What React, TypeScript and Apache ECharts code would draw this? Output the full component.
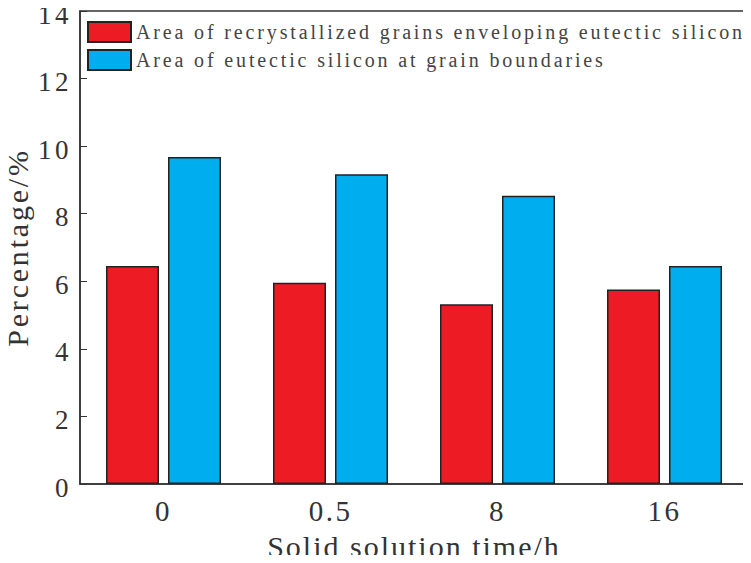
import React, { useEffect, useRef } from "react";
import * as echarts from "echarts";

const categories = ["0", "0.5", "8", "16"];
const recrystallized = [6.45, 5.96, 5.32, 5.76];
const eutecticBoundary = [9.68, 9.17, 8.53, 6.45];
const seriesNames = [
  "Area of recrystallized grains enveloping eutectic silicon",
  "Area of eutectic silicon at grain boundaries",
];
const yTickLabels = ["0", "2", "4", "6", "8", "10", "12", "14"];
const xName = "Solid solution time/h";
const yName = "Percentage/%";

const FONT = "Liberation Serif";
const TXT = "#333";

export default function App() {
  const ref = useRef<HTMLDivElement>(null);
  useEffect(() => {
    const el = ref.current!;
    const chart = echarts.init(el, null, { renderer: "svg" });
    chart.setOption({
      animation: false,
      backgroundColor: "#fff",
      grid: {
        left: 80,
        right: 3,
        top: 11,
        bottom: 79,
        outerBoundsMode: "none",
        containLabel: false,
        show: true,
        borderColor: "#333",
        borderWidth: 1.5,
        backgroundColor: "transparent",
      },
      legend: {
        orient: "vertical",
        left: 82,
        top: 16,
        icon: "rect",
        itemWidth: 43,
        itemHeight: 20,
        itemGap: 6,
        textStyle: { fontFamily: FONT, fontSize: 20, color: "#444" },
        data: seriesNames,
      },
      xAxis: {
        type: "category",
        data: categories,
        name: xName,
        nameLocation: "middle",
        nameGap: 47,
        nameTextStyle: { fontFamily: FONT, fontSize: 30, color: TXT },
        axisLine: { lineStyle: { color: "#333", width: 1.5 } },
        axisTick: { inside: true, alignWithLabel: true, length: 5, lineStyle: { color: "#555" } },
        axisLabel: { fontFamily: FONT, fontSize: 29, color: TXT, margin: 12 },
      },
      yAxis: {
        type: "value",
        min: 0,
        max: 14,
        interval: 2,
        name: yName,
        nameLocation: "middle",
        nameGap: 48,
        nameTextStyle: { fontFamily: FONT, fontSize: 30, color: TXT },
        axisLine: { show: true, lineStyle: { color: "#333", width: 1.5 } },
        axisTick: { show: true, inside: true, length: 7, lineStyle: { color: "#333" } },
        axisLabel: {
          fontFamily: FONT,
          fontSize: 27,
          color: TXT,
          margin: 8,
          formatter: (v: number) => yTickLabels[Math.round(v / 2)] ?? String(v),
        },
        splitLine: { show: false },
      },
      series: [
        {
          name: seriesNames[0],
          type: "bar",
          data: recrystallized,
          barWidth: 53,
          barGap: "17%",
          itemStyle: { color: "#ED1C24", borderColor: "#222", borderWidth: 1.5 },
        },
        {
          name: seriesNames[1],
          type: "bar",
          data: eutecticBoundary,
          barWidth: 53,
          barGap: "17%",
          itemStyle: { color: "#00AEEF", borderColor: "#222", borderWidth: 1.5 },
        },
      ],
    });
    const applySpacing = () => {
      el.querySelectorAll("text").forEach((t) => {
        const s = (t.textContent || "").trim();
        let sp = 2.5;
        if (seriesNames.includes(s)) sp = 2.85;
        else if (s === xName) sp = 2;
        else if (s === yName) sp = 2.8;
        else if (yTickLabels.includes(s) && t.getAttribute("text-anchor") === "end") {
          sp = 3.5;
          t.setAttribute("dy", "3.5");
        }
        t.setAttribute("letter-spacing", String(sp));
      });
    };
    applySpacing();
    chart.on("finished", applySpacing);
    return () => chart.dispose();
  }, []);
  return <div ref={ref} style={{ width: 751, height: 563, margin: -8 }} />;
}
